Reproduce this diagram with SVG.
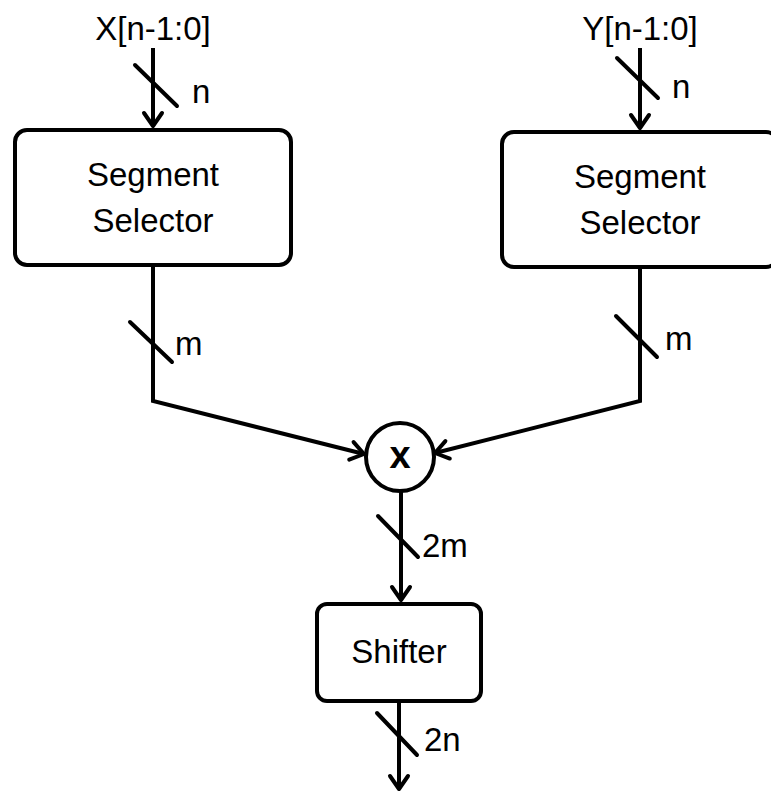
<svg xmlns="http://www.w3.org/2000/svg" width="771" height="793" viewBox="0 0 771 793">
<style>
  .box { fill: #ffffff; stroke: #000000; stroke-width: 4; }
  .wire { fill: none; stroke: #000000; stroke-width: 4; stroke-linejoin: miter; }
  .slash { stroke: #000000; stroke-width: 4; stroke-linecap: round; }
  .lbl { font-family: "Liberation Sans", Arial, sans-serif; font-size: 33px; fill: #000000; }
  .mid { text-anchor: middle; }
  .op { font-family: "Liberation Sans", Arial, sans-serif; font-size: 38px; font-weight: bold; text-anchor: middle; fill: #000000; }
</style>
<defs>
  <marker id="arrow" markerUnits="userSpaceOnUse" markerWidth="30" markerHeight="30" refX="0" refY="0" viewBox="-20 -15 30 30" orient="auto" overflow="visible">
    <path d="M -13 -9 L 0 0 L -13 9" fill="none" stroke="#000000" stroke-width="4" stroke-linecap="round" stroke-linejoin="round"/>
  </marker>
</defs>
<rect width="771" height="793" fill="#ffffff"/>

<g id="connectors">
  <path class="wire" d="M153,48 V126" marker-end="url(#arrow)"/>
  <path class="wire" d="M640,48 V128" marker-end="url(#arrow)"/>
  <path class="wire" d="M153,266 V401 L364,454" marker-end="url(#arrow)"/>
  <path class="wire" d="M640,268 V401 L435,453" marker-end="url(#arrow)"/>
  <path class="wire" d="M401,491 V600" marker-end="url(#arrow)"/>
  <path class="wire" d="M399,701 V789" marker-end="url(#arrow)"/>
  <line class="slash" x1="135" y1="65" x2="177" y2="106"/>
  <line class="slash" x1="617" y1="58" x2="658" y2="98"/>
  <line class="slash" x1="130" y1="322" x2="172" y2="362"/>
  <line class="slash" x1="616" y1="316" x2="657" y2="357"/>
  <line class="slash" x1="378" y1="516" x2="418" y2="557"/>
  <line class="slash" x1="377" y1="713" x2="417" y2="755"/>
  <text class="lbl mid" x="153" y="40">X[n-1:0]</text>
  <text class="lbl mid" x="640" y="40">Y[n-1:0]</text>
  <text class="lbl" x="192" y="103">n</text>
  <text class="lbl" x="672" y="98">n</text>
  <text class="lbl" x="175" y="355">m</text>
  <text class="lbl" x="665" y="350">m</text>
  <text class="lbl" x="422" y="557">2m</text>
  <text class="lbl" x="424" y="751">2n</text>
</g>

<g id="selector-x">
  <rect class="box" x="15" y="130" width="276" height="135" rx="12"/>
  <text class="lbl mid" x="153" y="186">Segment</text>
  <text class="lbl mid" x="153" y="232">Selector</text>
</g>

<g id="selector-y">
  <rect class="box" x="502" y="132" width="276" height="135" rx="12"/>
  <text class="lbl mid" x="640" y="188">Segment</text>
  <text class="lbl mid" x="640" y="234">Selector</text>
</g>

<g id="multiplier">
  <circle class="box" cx="400" cy="457" r="34"/>
  <text class="op" x="400" y="468">x</text>
</g>

<g id="shifter">
  <rect class="box" x="317" y="604" width="164" height="97" rx="10"/>
  <text class="lbl mid" x="399" y="663">Shifter</text>
</g>
</svg>
